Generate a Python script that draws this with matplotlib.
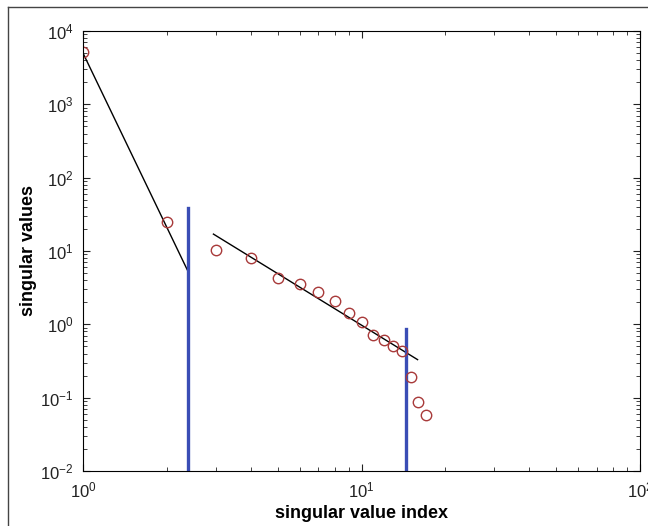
import matplotlib
matplotlib.use("Agg")
import matplotlib.pyplot as plt
from matplotlib.lines import Line2D
from matplotlib.ticker import LogLocator, NullFormatter
import numpy as np

plt.rcParams["font.family"] = ["Liberation Sans", "DejaVu Sans"]
plt.rcParams["mathtext.fontset"] = "custom"
plt.rcParams["mathtext.rm"] = "Liberation Sans"
plt.rcParams["axes.unicode_minus"] = False

# singular values vs index
idx = [1, 2, 3, 4, 5, 6, 7, 8, 9, 10, 11, 12, 13, 14, 15, 16, 17]
sv = [5200, 25, 10.3, 8.0, 4.3, 3.5, 2.8, 2.05, 1.42, 1.07, 0.71, 0.61, 0.51, 0.43, 0.19, 0.086, 0.058]

# fitted lines (endpoints)
fit1_x = [1, 2.37]
fit1_y = [5000, 5.5]
fit2_x = [2.94, 15.9]
fit2_y = [17, 0.33]

# cut-off markers
cut_x = [2.38, 14.4]
cut_top = [38, 0.86]

fig = plt.figure(figsize=(6.48, 5.26), dpi=100)
ax = fig.add_axes([83 / 648, 55 / 526, 557 / 648, 440 / 526])

ax.plot(fit1_x, fit1_y, color="black", lw=1.0)
ax.plot(fit2_x, fit2_y, color="black", lw=1.0)
for cx, ct in zip(cut_x, cut_top):
    ax.plot([cx, cx], [1e-2, ct], color="#3a4db5", lw=2.4)
ax.plot(idx, sv, "o", mfc="none", mec="#a83a3a", ms=7.5, mew=1.0)

ax.set_xscale("log")
ax.set_yscale("log")
ax.set_xlim(1, 100)
ax.set_ylim(1e-2, 1e4)
ax.xaxis.set_major_locator(LogLocator(base=10, numticks=10))
ax.yaxis.set_major_locator(LogLocator(base=10, numticks=10))
ax.xaxis.set_minor_locator(LogLocator(base=10, subs=np.arange(2, 10), numticks=20))
ax.yaxis.set_minor_locator(LogLocator(base=10, subs=np.arange(2, 10), numticks=20))
ax.xaxis.set_minor_formatter(NullFormatter())
ax.yaxis.set_minor_formatter(NullFormatter())
ax.tick_params(which="both", direction="in", top=True, right=True, labelsize=12, colors="#222222")
ax.tick_params(which="major", length=5)
ax.tick_params(which="minor", length=3)
ax.tick_params(axis="x", pad=7)
ax.tick_params(axis="y", pad=7)

ax.set_xlabel("singular value index", fontsize=13, fontweight="bold", labelpad=3)
ax.set_ylabel("singular values", fontsize=13, fontweight="bold", labelpad=2)

# outer frame
fig.add_artist(Line2D([8 / 648, 8 / 648], [0, 1 - 7 / 526], color="#444444", lw=1.0))
fig.add_artist(Line2D([8 / 648, 1], [1 - 7 / 526, 1 - 7 / 526], color="#444444", lw=1.0))

fig.savefig("out.png", dpi=100)
